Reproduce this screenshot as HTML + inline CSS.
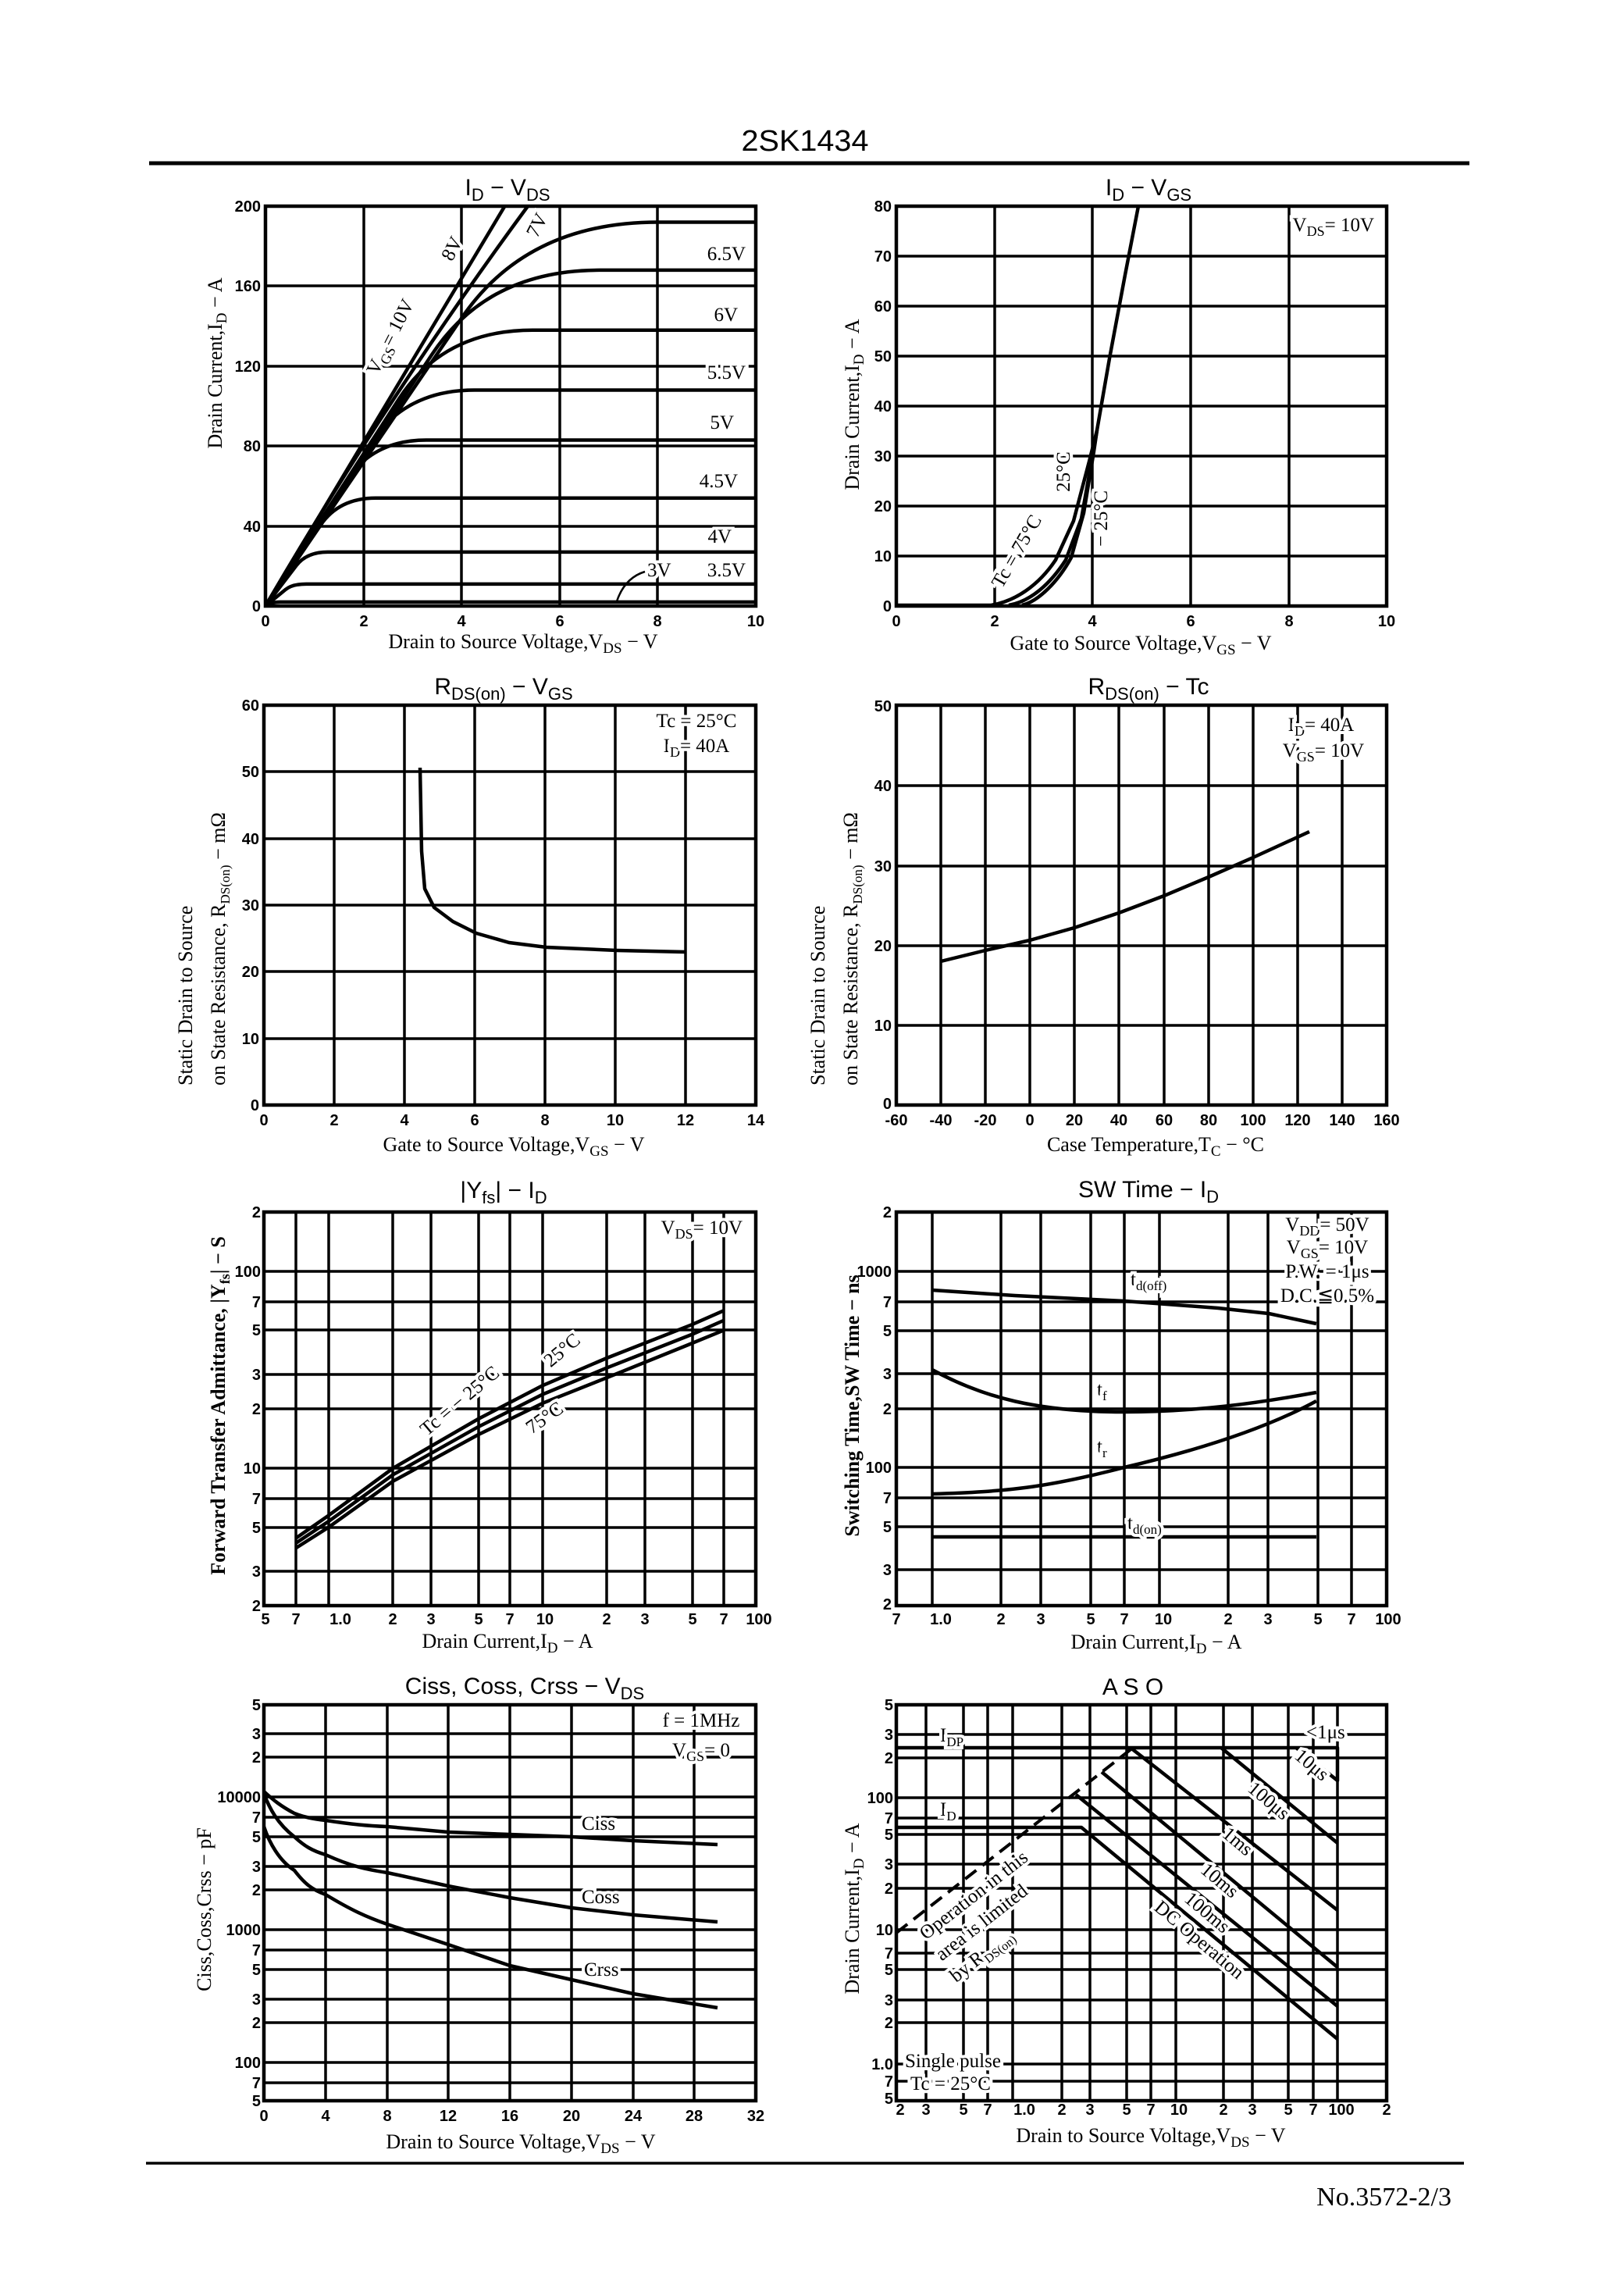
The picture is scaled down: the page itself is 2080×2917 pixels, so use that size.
<!DOCTYPE html>
<html><head><meta charset="utf-8"><style>
html,body{margin:0;padding:0;background:#fff}
svg{display:block}
.g{stroke:#000;stroke-width:3.5;fill:none}
.b{stroke:#000;stroke-width:4.5;fill:none}
.c{stroke:#000;stroke-width:4.5;fill:none;vector-effect:non-scaling-stroke;stroke-linejoin:round}
.t{font-family:"Liberation Sans",sans-serif;font-weight:bold;font-size:20px}
.a{font-family:"Liberation Serif",serif;font-size:26px}
.ti{font-family:"Liberation Sans",sans-serif;font-size:30px}
.l{font-family:"Liberation Serif",serif;font-size:25px;paint-order:stroke;stroke:#fff;stroke-width:8px}
.r{text-anchor:end}
.m{text-anchor:middle}
</style></head><body>
<svg width="2080" height="2917" viewBox="0 0 2080 2917" xmlns="http://www.w3.org/2000/svg">
<rect width="2080" height="2917" fill="#fff"/>
<text x="1031" y="193" class="m" font-family="Liberation Sans,sans-serif" font-size="38" textLength="163" lengthAdjust="spacingAndGlyphs">2SK1434</text>
<line x1="191" y1="209" x2="1882" y2="209" stroke="#000" stroke-width="5"/>

<!-- CHART 1 -->
<text x="650" y="250" class="ti m">I<tspan dy="7" font-size="22">D</tspan><tspan dy="-7">  −  V</tspan><tspan dy="7" font-size="22">DS</tspan></text>
<path class="g" d="M466 264V776M591 264V776M717 264V776M842 264V776M340 674H968M340 571H968M340 469H968M340 366H968"/>
<rect class="b" x="340" y="264" width="628" height="512"/>
<g transform="translate(340,776) scale(62.8,-2.56)">
<path class="c" d="M0 0L.15 1.5Q.2 2 .3 2L10 2"/>
<path class="c" d="M0 0L.41 8.25Q.55 11 .83 11L10 11"/>
<path class="c" d="M0 0L.63 20.25Q.84 27 1.27 27L10 27"/>
<path class="c" d="M0 0L1.125 40.5Q1.5 54 2.25 54L10 54"/>
<path class="c" d="M0 0L1.64 62.25Q2.18 83 3.28 83L10 83"/>
<path class="c" d="M0 0L2.13 81Q2.84 108 4.26 108L10 108"/>
<path class="c" d="M0 0L2.72 103.5Q3.63 138 5.45 138L10 138"/>
<path class="c" d="M0 0L3.4 126Q4.54 168 6.81 168L10 168"/>
<path class="c" d="M0 0L4 144Q5.33 192 8 192L10 192"/>
<path class="c" d="M0 0Q2.5 105 5.35 200"/>
<path class="c" d="M0 0L4.88 200"/>
</g>
<g class="l">
<text x="955" y="333" class="r">6.5V</text>
<text x="945" y="411" class="r">6V</text>
<text x="955" y="485" class="r">5.5V</text>
<text x="940" y="549" class="r">5V</text>
<text x="945" y="624" class="r">4.5V</text>
<text x="937" y="695" class="r">4V</text>
<text x="829" y="738">3V</text>
<text x="955" y="738" class="r">3.5V</text>
<text transform="translate(507,435) rotate(-63)" class="m">V<tspan dy="6" font-size="18">GS</tspan><tspan dy="-6">= 10V</tspan></text>
<text transform="translate(586,322) rotate(-63)" class="m">8V</text>
<text transform="translate(695,292) rotate(-63)" class="m">7V</text>
</g>
<path d="M826 732Q800 740 790 770" stroke="#000" stroke-width="2.5" fill="none"/>
<g class="t">
<text x="340" y="802" class="m">0</text><text x="466" y="802" class="m">2</text><text x="591" y="802" class="m">4</text><text x="717" y="802" class="m">6</text><text x="842" y="802" class="m">8</text><text x="968" y="802" class="m">10</text>
<text x="334" y="783" class="r">0</text><text x="334" y="681" class="r">40</text><text x="334" y="578" class="r">80</text><text x="334" y="476" class="r">120</text><text x="334" y="373" class="r">160</text><text x="334" y="271" class="r">200</text>
</g>
<text x="670" y="830" class="a m">Drain to Source Voltage,V<tspan dy="6" font-size="19">DS</tspan><tspan dy="-6"> − V</tspan></text>
<text transform="translate(284,465) rotate(-90)" class="a m">Drain Current,I<tspan dy="6" font-size="19">D</tspan><tspan dy="-6"> − A</tspan></text>

<!-- CHART 2 -->
<text x="1471" y="250" class="ti m">I<tspan dy="7" font-size="22">D</tspan><tspan dy="-7">  −  V</tspan><tspan dy="7" font-size="22">GS</tspan></text>
<path class="g" d="M1274 264V776M1399 264V776M1525 264V776M1651 264V776M1148 712H1776M1148 648H1776M1148 584H1776M1148 520H1776M1148 456H1776M1148 392H1776M1148 328H1776"/>
<rect class="b" x="1148" y="264" width="628" height="512"/>
<path class="c" d="M1148 775L1269 775C1300 770 1330 750 1352 717L1375 667L1395 591L1405 551L1421 459L1441 352L1458 264"/>
<path class="c" d="M1292 775C1320 770 1345 748 1365 717L1385 664L1398 591L1405 551"/>
<path class="c" d="M1309 775C1330 770 1355 745 1372 714L1388 657L1401 578L1405 551"/>
<text x="1760" y="296" class="l r">V<tspan dy="6" font-size="18">DS</tspan><tspan dy="-6">= 10V</tspan></text>
<g class="l">
<text transform="translate(1309,710) rotate(-60)" class="m">Tc = 75°C</text>
<text transform="translate(1370,604) rotate(-90)" class="m">25°C</text>
<text transform="translate(1418,664) rotate(-90)" class="m">− 25°C</text>
</g>
<g class="t">
<text x="1148" y="802" class="m">0</text><text x="1274" y="802" class="m">2</text><text x="1399" y="802" class="m">4</text><text x="1525" y="802" class="m">6</text><text x="1651" y="802" class="m">8</text><text x="1776" y="802" class="m">10</text>
<text x="1142" y="783" class="r">0</text><text x="1142" y="719" class="r">10</text><text x="1142" y="655" class="r">20</text><text x="1142" y="591" class="r">30</text><text x="1142" y="527" class="r">40</text><text x="1142" y="463" class="r">50</text><text x="1142" y="399" class="r">60</text><text x="1142" y="335" class="r">70</text><text x="1142" y="271" class="r">80</text>
</g>
<text x="1461" y="832" class="a m">Gate to Source Voltage,V<tspan dy="6" font-size="19">GS</tspan><tspan dy="-6"> − V</tspan></text>
<text transform="translate(1100,518) rotate(-90)" class="a m">Drain Current,I<tspan dy="6" font-size="19">D</tspan><tspan dy="-6"> − A</tspan></text>

<!-- CHART 3 -->
<text x="645" y="889" class="ti m">R<tspan dy="7" font-size="22">DS(on)</tspan><tspan dy="-7">  −  V</tspan><tspan dy="7" font-size="22">GS</tspan></text>
<path class="g" d="M428 903V1415M518 903V1415M608 903V1415M698 903V1415M788 903V1415M878 903V1415M338 1330H968M338 1244H968M338 1159H968M338 1074H968M338 988H968"/>
<rect class="b" x="338" y="903" width="630" height="512"/>
<path class="c" d="M538 983L540 1090L544 1138L556 1162L580 1180L610 1195L652 1207L700 1213L790 1217L878 1219"/>
<text x="892" y="931" class="l m">Tc = 25°C</text>
<text x="892" y="963" class="l m">I<tspan dy="6" font-size="18">D</tspan><tspan dy="-6">= 40A</tspan></text>
<g class="t">
<text x="338" y="1441" class="m">0</text><text x="428" y="1441" class="m">2</text><text x="518" y="1441" class="m">4</text><text x="608" y="1441" class="m">6</text><text x="698" y="1441" class="m">8</text><text x="788" y="1441" class="m">10</text><text x="878" y="1441" class="m">12</text><text x="968" y="1441" class="m">14</text>
<text x="332" y="1422" class="r">0</text><text x="332" y="1337" class="r">10</text><text x="332" y="1251" class="r">20</text><text x="332" y="1166" class="r">30</text><text x="332" y="1081" class="r">40</text><text x="332" y="995" class="r">50</text><text x="332" y="910" class="r">60</text>
</g>
<text x="658" y="1474" class="a m">Gate to Source Voltage,V<tspan dy="6" font-size="19">GS</tspan><tspan dy="-6"> − V</tspan></text>
<text transform="translate(246,1390) rotate(-90)" class="a">Static Drain to Source</text>
<text transform="translate(288,1390) rotate(-90)" class="a">on State Resistance, R<tspan dy="6" font-size="17">DS(on)</tspan><tspan dy="-6">   −   mΩ</tspan></text>

<!-- CHART 4 -->
<text x="1471" y="889" class="ti m">R<tspan dy="7" font-size="22">DS(on)</tspan><tspan dy="-7">  −  Tc</tspan></text>
<path class="g" d="M1205 903V1415M1262 903V1415M1319 903V1415M1376 903V1415M1433 903V1415M1491 903V1415M1548 903V1415M1605 903V1415M1662 903V1415M1719 903V1415M1148 1313H1776M1148 1211H1776M1148 1109H1776M1148 1006H1776"/>
<rect class="b" x="1148" y="903" width="628" height="512"/>
<path class="c" d="M1205 1231L1262 1217L1319 1204L1376 1188L1433 1169L1491 1147L1548 1123L1605 1098L1677 1065"/>
<text x="1692" y="936" class="l m">I<tspan dy="6" font-size="18">D</tspan><tspan dy="-6">= 40A</tspan></text>
<text x="1695" y="969" class="l m">V<tspan dy="6" font-size="18">GS</tspan><tspan dy="-6">= 10V</tspan></text>
<g class="t">
<text x="1148" y="1441" class="m">-60</text><text x="1205" y="1441" class="m">-40</text><text x="1262" y="1441" class="m">-20</text><text x="1319" y="1441" class="m">0</text><text x="1376" y="1441" class="m">20</text><text x="1433" y="1441" class="m">40</text><text x="1491" y="1441" class="m">60</text><text x="1548" y="1441" class="m">80</text><text x="1605" y="1441" class="m">100</text><text x="1662" y="1441" class="m">120</text><text x="1719" y="1441" class="m">140</text><text x="1776" y="1441" class="m">160</text>
<text x="1142" y="1420" class="r">0</text><text x="1142" y="1320" class="r">10</text><text x="1142" y="1218" class="r">20</text><text x="1142" y="1116" class="r">30</text><text x="1142" y="1013" class="r">40</text><text x="1142" y="911" class="r">50</text>
</g>
<text x="1480" y="1474" class="a m">Case Temperature,T<tspan dy="6" font-size="19">C</tspan><tspan dy="-6"> − °C</tspan></text>
<text transform="translate(1056,1390) rotate(-90)" class="a">Static Drain to Source</text>
<text transform="translate(1098,1390) rotate(-90)" class="a">on State Resistance, R<tspan dy="6" font-size="17">DS(on)</tspan><tspan dy="-6">   −   mΩ</tspan></text>

<!-- CHART 5 -->
<text x="645" y="1534" class="ti m">|Y<tspan dy="7" font-size="22">fs</tspan><tspan dy="-7">|  −  I</tspan><tspan dy="7" font-size="22">D</tspan></text>
<path class="g" d="M379 1552V2056M421 1552V2056M503 1552V2056M552 1552V2056M613 1552V2056M653 1552V2056M695 1552V2056M777 1552V2056M826 1552V2056M887 1552V2056M927 1552V2056M338 1628H968M338 1667H968M338 1703H968M338 1760H968M338 1804H968M338 1880H968M338 1919H968M338 1956H968M338 2012H968"/>
<rect class="b" x="338" y="1552" width="630" height="504"/>
<g transform="translate(421,2132) scale(274,-252)">
<path class="c" d="M-.155 .643L0 .76L.301 1L.699 1.25L1 1.42L1.301 1.56L1.699 1.73L1.845 1.8"/>
<path class="c" d="M-.155 .618L0 .73L.301 .967L.699 1.21L1 1.375L1.301 1.51L1.699 1.68L1.845 1.75"/>
<path class="c" d="M-.155 .593L0 .7L.301 .934L.699 1.17L1 1.33L1.301 1.46L1.699 1.635L1.845 1.7"/>
</g>
<text x="951" y="1580" class="l r">V<tspan dy="6" font-size="18">DS</tspan><tspan dy="-6">= 10V</tspan></text>
<g class="l">
<text transform="translate(594,1800) rotate(-40)" class="m">Tc = − 25°C</text>
<text transform="translate(725,1735) rotate(-40)" class="m">25°C</text>
<text transform="translate(702,1822) rotate(-35)" class="m">75°C</text>
</g>
<g class="t">
<text x="340" y="2080" class="m">5</text><text x="379" y="2080" class="m">7</text><text x="436" y="2080" class="m">1.0</text><text x="503" y="2080" class="m">2</text><text x="552" y="2080" class="m">3</text><text x="613" y="2080" class="m">5</text><text x="653" y="2080" class="m">7</text><text x="698" y="2080" class="m">10</text><text x="777" y="2080" class="m">2</text><text x="826" y="2080" class="m">3</text><text x="887" y="2080" class="m">5</text><text x="927" y="2080" class="m">7</text><text x="972" y="2080" class="m">100</text>
<text x="334" y="1559" class="r">2</text><text x="334" y="1635" class="r">100</text><text x="334" y="1674" class="r">7</text><text x="334" y="1710" class="r">5</text><text x="334" y="1767" class="r">3</text><text x="334" y="1811" class="r">2</text><text x="334" y="1887" class="r">10</text><text x="334" y="1926" class="r">7</text><text x="334" y="1963" class="r">5</text><text x="334" y="2019" class="r">3</text><text x="334" y="2063" class="r">2</text>
</g>
<text x="650" y="2110" class="a m">Drain Current,I<tspan dy="6" font-size="19">D</tspan><tspan dy="-6"> − A</tspan></text>
<text transform="translate(288,1800) rotate(-90)" class="a m" font-weight="bold">Forward Transfer Admittance, |Y<tspan dy="6" font-size="18">fs</tspan><tspan dy="-6">|  −  S</tspan></text>

<!-- CHART 6 -->
<text x="1471" y="1533" class="ti m">SW Time  −  I<tspan dy="7" font-size="22">D</tspan></text>
<path class="g" d="M1194 1552V2056M1282 1552V2056M1333 1552V2056M1397 1552V2056M1440 1552V2056M1485 1552V2056M1573 1552V2056M1624 1552V2056M1688 1552V2056M1731 1552V2056M1148 1628H1776M1148 1667H1776M1148 1704H1776M1148 1759H1776M1148 1804H1776M1148 1879H1776M1148 1918H1776M1148 1955H1776M1148 2010H1776"/>
<rect class="b" x="1148" y="1552" width="628" height="504"/>
<path class="c" d="M1194 1652L1300 1659L1440 1666L1560 1675L1625 1682L1686 1695"/>
<path class="c" d="M1194 1754C1260 1790 1330 1808 1440 1808C1530 1808 1610 1797 1686 1783"/>
<path class="c" d="M1194 1913C1290 1910 1340 1905 1440 1879C1530 1858 1620 1830 1686 1794"/>
<path class="c" d="M1194 1968H1686"/>
<g class="l">
<text x="1448" y="1646">t<tspan dy="6" font-size="17">d(off)</tspan></text>
<text x="1405" y="1787">t<tspan dy="6" font-size="17">f</tspan></text>
<text x="1405" y="1860">t<tspan dy="6" font-size="17">r</tspan></text>
<text x="1444" y="1958">t<tspan dy="6" font-size="17">d(on)</tspan></text>
<text x="1700" y="1576" class="m">V<tspan dy="6" font-size="18">DD</tspan><tspan dy="-6">= 50V</tspan></text>
<text x="1700" y="1605" class="m">V<tspan dy="6" font-size="18">GS</tspan><tspan dy="-6">= 10V</tspan></text>
<text x="1700" y="1636" class="m">P.W. = 1μs</text>
<text x="1700" y="1667" class="m">D.C.≦0.5%</text>
</g>
<g class="t">
<text x="1148" y="2080" class="m">7</text><text x="1205" y="2080" class="m">1.0</text><text x="1282" y="2080" class="m">2</text><text x="1333" y="2080" class="m">3</text><text x="1397" y="2080" class="m">5</text><text x="1440" y="2080" class="m">7</text><text x="1490" y="2080" class="m">10</text><text x="1573" y="2080" class="m">2</text><text x="1624" y="2080" class="m">3</text><text x="1688" y="2080" class="m">5</text><text x="1731" y="2080" class="m">7</text><text x="1778" y="2080" class="m">100</text>
<text x="1142" y="1559" class="r">2</text><text x="1142" y="1635" class="r">1000</text><text x="1142" y="1674" class="r">7</text><text x="1142" y="1711" class="r">5</text><text x="1142" y="1766" class="r">3</text><text x="1142" y="1811" class="r">2</text><text x="1142" y="1886" class="r">100</text><text x="1142" y="1925" class="r">7</text><text x="1142" y="1962" class="r">5</text><text x="1142" y="2017" class="r">3</text><text x="1142" y="2061" class="r">2</text>
</g>
<text x="1481" y="2111" class="a m">Drain Current,I<tspan dy="6" font-size="19">D</tspan><tspan dy="-6"> − A</tspan></text>
<text transform="translate(1100,1800) rotate(-90)" class="a m" font-weight="bold">Switching Time,SW Time  −  ns</text>

<!-- CHART 7 -->
<text x="672" y="2169" class="ti m">Ciss, Coss, Crss  −  V<tspan dy="7" font-size="22">DS</tspan></text>
<path class="g" d="M417 2183V2690M496 2183V2690M574 2183V2690M653 2183V2690M732 2183V2690M811 2183V2690M889 2183V2690M338 2220H968M338 2250H968M338 2301H968M338 2327H968M338 2352H968M338 2390H968M338 2420H968M338 2471H968M338 2497H968M338 2522H968M338 2560H968M338 2590H968M338 2641H968M338 2667H968"/>
<rect class="b" x="338" y="2183" width="630" height="507"/>
<path class="c" d="M338 2294C350 2305 360 2313 377 2322C390 2327 400 2329 417 2331C450 2336 470 2338 496 2339L574 2346L653 2349L732 2352L811 2357L919 2362"/>
<path class="c" d="M338 2297C345 2315 355 2335 377 2352C390 2364 400 2370 417 2375C450 2390 470 2394 496 2398L574 2415L653 2430L732 2443L811 2452L919 2461"/>
<path class="c" d="M338 2339C345 2360 358 2383 377 2395C390 2412 400 2420 417 2426C450 2446 470 2455 496 2464L574 2490L653 2517L732 2535L811 2553L919 2571"/>
<g class="l">
<text x="745" y="2343">Ciss</text>
<text x="745" y="2437">Coss</text>
<text x="748" y="2530">Crss</text>
<text x="898" y="2211" class="m">f = 1MHz</text>
<text x="898" y="2249" class="m">V<tspan dy="6" font-size="18">GS</tspan><tspan dy="-6">= 0</tspan></text>
</g>
<g class="t">
<text x="338" y="2716" class="m">0</text><text x="417" y="2716" class="m">4</text><text x="496" y="2716" class="m">8</text><text x="574" y="2716" class="m">12</text><text x="653" y="2716" class="m">16</text><text x="732" y="2716" class="m">20</text><text x="811" y="2716" class="m">24</text><text x="889" y="2716" class="m">28</text><text x="968" y="2716" class="m">32</text>
<text x="334" y="2190" class="r">5</text><text x="334" y="2227" class="r">3</text><text x="334" y="2257" class="r">2</text><text x="334" y="2308" class="r">10000</text><text x="334" y="2334" class="r">7</text><text x="334" y="2359" class="r">5</text><text x="334" y="2397" class="r">3</text><text x="334" y="2427" class="r">2</text><text x="334" y="2478" class="r">1000</text><text x="334" y="2504" class="r">7</text><text x="334" y="2529" class="r">5</text><text x="334" y="2567" class="r">3</text><text x="334" y="2597" class="r">2</text><text x="334" y="2648" class="r">100</text><text x="334" y="2674" class="r">7</text><text x="334" y="2697" class="r">5</text>
</g>
<text x="667" y="2751" class="a m">Drain to Source Voltage,V<tspan dy="6" font-size="19">DS</tspan><tspan dy="-6"> − V</tspan></text>
<text transform="translate(270,2445) rotate(-90)" class="a m">Ciss,Coss,Crss  −  pF</text>

<!-- CHART 8 ASO -->
<text x="1451" y="2170" class="ti m">A S O</text>
<path class="g" d="M1186 2183V2690M1234 2183V2690M1265 2183V2690M1297 2183V2690M1360 2183V2690M1396 2183V2690M1443 2183V2690M1474 2183V2690M1506 2183V2690M1567 2183V2690M1604 2183V2690M1650 2183V2690M1682 2183V2690M1713 2183V2690M1148 2221H1776M1148 2251H1776M1148 2302H1776M1148 2328H1776M1148 2349H1776M1148 2387H1776M1148 2418H1776M1148 2471H1776M1148 2501H1776M1148 2522H1776M1148 2561H1776M1148 2590H1776M1148 2643H1776M1148 2665H1776"/>
<rect class="b" x="1148" y="2183" width="628" height="507"/>
<path class="c" d="M1148 2238H1713V2280L1660 2238"/>
<path class="c" d="M1564 2238L1713 2360"/>
<path class="c" d="M1448 2238L1713 2446"/>
<path class="c" d="M1411 2269L1713 2519"/>
<path class="c" d="M1378 2298L1713 2569"/>
<path class="c" d="M1148 2340H1385L1713 2611"/>
<path d="M1148 2475L1451 2238" stroke="#000" stroke-width="4" stroke-dasharray="18 10" fill="none"/>
<g class="l" font-size="24">
<text transform="translate(1252,2433) rotate(-38)" class="m">Operation in this</text>
<text transform="translate(1262,2468) rotate(-38)" class="m">area is limited</text>
<text transform="translate(1262,2510) rotate(-38)" class="m">by R<tspan dy="6" font-size="16">DS(on)</tspan></text>
<text transform="translate(1675,2266) rotate(40)" class="m">10μs</text>
<text transform="translate(1620,2312) rotate(40)" class="m">100μs</text>
<text transform="translate(1580,2364) rotate(40)" class="m">1ms</text>
<text transform="translate(1557,2414) rotate(40)" class="m">10ms</text>
<text transform="translate(1541,2455) rotate(40)" class="m">100ms</text>
<text transform="translate(1531,2490) rotate(40)" class="m">DC Operation</text>
<text x="1204" y="2230">I<tspan dy="6" font-size="17">DP</tspan></text>
<text x="1204" y="2325">I<tspan dy="6" font-size="17">D</tspan></text>
<text x="1673" y="2226">&lt;1μs</text>
<text x="1159" y="2647">Single pulse</text>
<text x="1166" y="2676">Tc = 25°C</text>
</g>
<g class="t">
<text x="1153" y="2708" class="m">2</text><text x="1186" y="2708" class="m">3</text><text x="1234" y="2708" class="m">5</text><text x="1265" y="2708" class="m">7</text><text x="1312" y="2708" class="m">1.0</text><text x="1360" y="2708" class="m">2</text><text x="1396" y="2708" class="m">3</text><text x="1443" y="2708" class="m">5</text><text x="1474" y="2708" class="m">7</text><text x="1510" y="2708" class="m">10</text><text x="1567" y="2708" class="m">2</text><text x="1604" y="2708" class="m">3</text><text x="1650" y="2708" class="m">5</text><text x="1682" y="2708" class="m">7</text><text x="1718" y="2708" class="m">100</text><text x="1776" y="2708" class="m">2</text>
<text x="1144" y="2190" class="r">5</text><text x="1144" y="2228" class="r">3</text><text x="1144" y="2258" class="r">2</text><text x="1144" y="2309" class="r">100</text><text x="1144" y="2335" class="r">7</text><text x="1144" y="2356" class="r">5</text><text x="1144" y="2394" class="r">3</text><text x="1144" y="2425" class="r">2</text><text x="1144" y="2478" class="r">10</text><text x="1144" y="2508" class="r">7</text><text x="1144" y="2529" class="r">5</text><text x="1144" y="2568" class="r">3</text><text x="1144" y="2597" class="r">2</text><text x="1144" y="2650" class="r">1.0</text><text x="1144" y="2672" class="r">7</text><text x="1144" y="2694" class="r">5</text>
</g>
<text x="1474" y="2743" class="a m">Drain to Source Voltage,V<tspan dy="6" font-size="19">DS</tspan><tspan dy="-6"> − V</tspan></text>
<text transform="translate(1100,2444) rotate(-90)" class="a m">Drain Current,I<tspan dy="6" font-size="19">D</tspan><tspan dy="-6"> − A</tspan></text>

<line x1="187" y1="2770" x2="1875" y2="2770" stroke="#000" stroke-width="3.5"/>
<text x="1859" y="2824" class="r" font-family="Liberation Serif,serif" font-size="34">No.3572-2/3</text>
</svg>
</body></html>
